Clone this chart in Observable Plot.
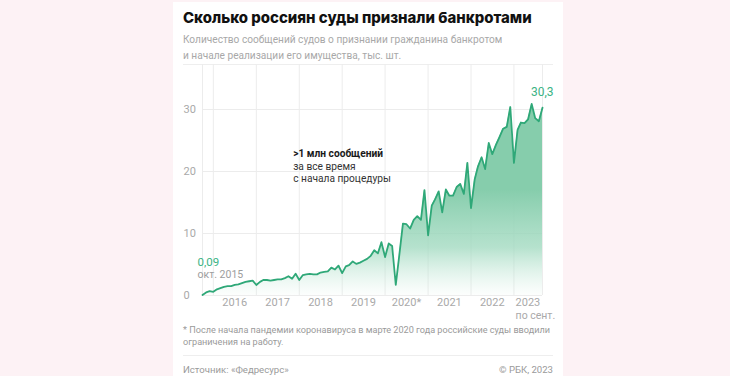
<!DOCTYPE html>
<html>
<head>
<meta charset="utf-8">
<script src="https://cdn.jsdelivr.net/npm/d3@7"></script>
<script src="https://cdn.jsdelivr.net/npm/@observablehq/plot@0.6"></script>
<style>
  html, body { margin: 0; padding: 0; width: 730px; height: 376px; overflow: hidden; background: #fdf2f5; font-family: Roboto, "Noto Sans", sans-serif; }
  #card { position: absolute; left: 173px; top: 2px; width: 390px; height: 374px; background: #fff; }
  .t { position: absolute; left: 183px; white-space: nowrap; }
  #title { top: 7px; font-family: Inter, Roboto, sans-serif; font-weight: 800; font-size: 17px; line-height: 22px; color: #111; }
  #sub { top: 32px; font-size: 11px; line-height: 15.5px; color: #a8a8a8; }
  .sep { position: absolute; left: 183px; width: 370px; height: 1px; background: #eeeeee; }
  #chart { position: absolute; left: 173px; top: 64px; }
  #note { top: 325px; font-size: 9.6px; line-height: 11.6px; color: #9a9a9a; }
  #src { top: 364px; font-size: 9.6px; line-height: 12px; color: #9a9a9a; }
  #copy { position: absolute; right: 177px; top: 364px; font-size: 9.6px; line-height: 12px; color: #9a9a9a; white-space: nowrap; }
</style>
</head>
<body>
<div id="card"></div>
<div class="t" id="title"><span id="titleText">Сколько россиян суды признали банкротами</span></div>
<div class="t" id="sub"><span id="sub1">Количество сообщений судов о признании гражданина банкротом</span><br><span>и начале реализации его имущества, тыс. шт.</span></div>
<div class="sep" style="top:64px"></div>
<div id="chart"></div>
<div class="t" id="note"><span id="note1">* После начала пандемии коронавируса в марте 2020 года российские суды вводили</span><br><span>ограничения на работу.</span></div>
<div class="sep" style="top:355px"></div>
<div class="t" id="src">Источник: «Федресурс»</div>
<div id="copy">© РБК, 2023</div>
<script>
// ---- Data (thousands of court notices per month) ----
const v2015 = [0.09, 0.5, 0.7];                                              // Oct–Dec
const v2016 = [0.6, 1.0, 1.2, 1.4, 1.5, 1.5, 1.7, 1.8, 2.0, 2.2, 2.3, 2.4];
const v2017 = [1.7, 2.2, 2.5, 2.5, 2.4, 2.5, 2.6, 2.6, 2.8, 3.1, 2.7, 3.5];
const v2018 = [2.5, 3.3, 3.4, 3.5, 3.4, 3.4, 3.7, 3.8, 3.9, 4.5, 4.2, 4.8];
const v2019 = [3.6, 4.7, 4.9, 5.5, 5.1, 5.3, 5.6, 5.9, 6.4, 7.3, 6.8, 8.6];
const v2020 = [6.2, 8.4, 8.0, 1.7, 6.5, 11.6, 11.5, 10.8, 12.2, 12.8, 12.2, 17.0];
const v2021 = [9.7, 14.5, 15.5, 16.8, 13.4, 17.1, 16.1, 16.1, 17.5, 18.0, 16.4, 21.4];
const v2022 = [14.1, 18.7, 20.8, 22.3, 20.4, 24.6, 22.8, 24.3, 25.6, 26.9, 27.2, 30.4];
const v2023 = [21.4, 26.7, 27.9, 27.8, 28.4, 30.9, 28.6, 28.1, 30.3];      // Jan–Sep

const seriesByYear = [
  [2015, 10, v2015], [2016, 1, v2016], [2017, 1, v2017], [2018, 1, v2018],
  [2019, 1, v2019], [2020, 1, v2020], [2021, 1, v2021], [2022, 1, v2022], [2023, 1, v2023]
];

const yTicks = [0, 10, 20, 30];
const yearLabels = ["2016", "2017", "2018", "2019", "2020*", "2021", "2022", "2023"];
const yearLabelDates = ["2016-07-01", "2017-07-01", "2018-07-01", "2019-07-01", "2020-07-01", "2021-07-01", "2022-07-01", "2023-01-15"];
const gridDates = ["2015-10-01", "2016-01-01", "2017-01-01", "2018-01-01", "2019-01-01", "2020-01-01", "2021-01-01", "2022-01-01", "2023-01-01", "2023-09-01"];
const partialYearNote = "по сент.";
const startLabel = "0,09";
const startDateLabel = "окт. 2015";
const endLabel = "30,3";
const annotDate = "2017-11-10";
const annotBold = ">1 млн сообщений";
const annotBoldValue = 22.8;
const annotRest = "за все время\nс начала процедуры";
const annotRestValue = 19.87;

// ---- build table ----
const data = [];
for (const [year, m0, vals] of seriesByYear) {
  vals.forEach((v, i) => data.push({ date: new Date(Date.UTC(year, m0 - 1 + i, 1)), value: v }));
}
const first = data[0], last = data[data.length - 1];
const toDate = s => new Date(s + "T00:00:00Z");

const green = "#2fa878";
const labelGreen = "#3bb384";
const gridColor = "#ececec";
const axisGray = "#a9a9a9";

const chart = Plot.plot({
  width: 390,
  height: 262,
  marginLeft: 29,
  marginRight: 21,
  marginTop: 0,
  marginBottom: 31,
  x: { type: "utc", domain: [first.date, last.date], axis: null },
  y: { domain: [0, 37.26], axis: null },
  style: { background: "transparent", fontFamily: "Roboto, 'Noto Sans', sans-serif", overflow: "visible" },
  marks: [
    Plot.ruleX(gridDates.map(toDate), { stroke: gridColor, strokeWidth: 1 }),
    Plot.ruleY(yTicks, { stroke: gridColor, strokeWidth: 1 }),
    Plot.areaY(data, { x: "date", y: "value", fill: "url(#areaGrad)" }),
    Plot.lineY(data, { x: "date", y: "value", stroke: green, strokeWidth: 1.8, strokeLinejoin: "round" }),
    Plot.text(yTicks, { y: d => d, text: d => String(d), frameAnchor: "left", textAnchor: "start", dx: -19, fill: axisGray, fontSize: 11 }),
    Plot.text(yearLabels.slice(0, -1), { x: (d, i) => toDate(yearLabelDates[i]), text: d => d, frameAnchor: "bottom", dy: 10.5, fill: axisGray, fontSize: 11 }),
    Plot.text(yearLabels.slice(-1), { x: () => toDate(yearLabelDates[yearLabelDates.length - 1]), text: d => d, frameAnchor: "bottom", textAnchor: "start", dy: 10.5, fill: axisGray, fontSize: 11 }),
    Plot.text([partialYearNote], { x: () => toDate(yearLabelDates[yearLabelDates.length - 1]), text: d => d, frameAnchor: "bottom", textAnchor: "start", dy: 23.5, fill: axisGray, fontSize: 10.5 }),
    Plot.text([first], { x: "date", y: "value", text: () => startLabel, textAnchor: "start", dx: -5, dy: -32.5, fill: labelGreen, fontSize: 11.5 }),
    Plot.text([first], { x: "date", y: "value", text: () => startDateLabel, textAnchor: "start", dx: -5, dy: -20, fill: "#9d9d9d", fontSize: 10.5 }),
    Plot.text([last], { x: "date", y: "value", text: () => endLabel, textAnchor: "end", dx: 11, dy: -15, fill: labelGreen, fontSize: 12 }),
    Plot.text([annotBold], { x: () => toDate(annotDate), y: () => annotBoldValue, text: d => d, textAnchor: "start", fill: "#1a1a1a", fontWeight: 700, fontSize: 10.2 }),
    Plot.text([annotRest], { x: () => toDate(annotDate), y: () => annotRestValue, text: d => d, textAnchor: "start", lineHeight: 12 / 10.2, fill: "#333", fontSize: 10.2 })
  ]
});

// gradient fill for the area, positioned with the y scale
const yS = chart.scale("y");
const gradTopValue = 17;
const defs = d3.select(chart).insert("defs", ":first-child");
const grad = defs.append("linearGradient")
  .attr("id", "areaGrad").attr("gradientUnits", "userSpaceOnUse")
  .attr("x1", 0).attr("x2", 0)
  .attr("y1", yS.apply(gradTopValue)).attr("y2", yS.apply(0));
grad.append("stop").attr("offset", "0").attr("stop-color", "#86cdac").attr("stop-opacity", 1);
grad.append("stop").attr("offset", "0.55").attr("stop-color", "#9dd8bd").attr("stop-opacity", 0.75);
grad.append("stop").attr("offset", "1").attr("stop-color", "#c8eadb").attr("stop-opacity", 0.05);

document.getElementById("chart").appendChild(chart);

// fit text widths to the reference layout
function fit(el, span, target) {
  const w = span.getBoundingClientRect().width;
  const fs = parseFloat(getComputedStyle(el).fontSize);
  el.style.fontSize = (fs * target / w) + "px";
}
fit(document.getElementById("title"), document.getElementById("titleText"), 349);
fit(document.getElementById("sub"), document.getElementById("sub1"), 320);
fit(document.getElementById("note"), document.getElementById("note1"), 367);
</script>
</body>
</html>
